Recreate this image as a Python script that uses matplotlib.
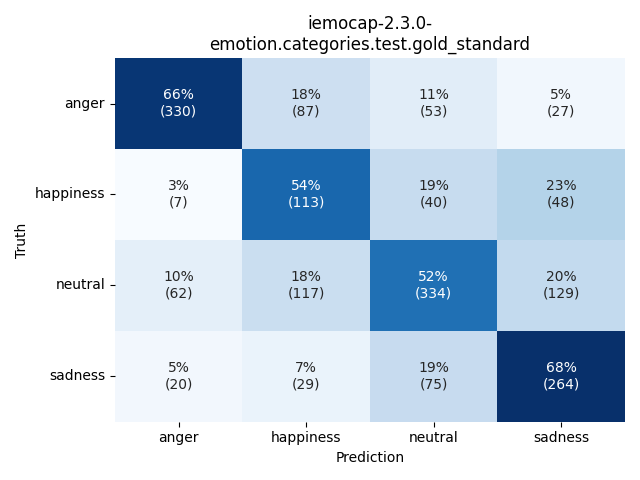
import numpy as np
import matplotlib
matplotlib.use("Agg")
import matplotlib.pyplot as plt
import seaborn as sns

# ── Data ───────────────────────────────────────────────────────────────────
labels = ["anger", "happiness", "neutral", "sadness"]
counts = np.array([
    [330, 87, 53, 27],
    [7, 113, 40, 48],
    [62, 117, 334, 129],
    [20, 29, 75, 264],
])

# row-normalised percentages
pct = 100 * counts / counts.sum(axis=1, keepdims=True)
annot = np.array([[f"{p:.0f}%\n({c})" for p, c in zip(prow, crow)]
                  for prow, crow in zip(pct, counts)])

# ── Plot ───────────────────────────────────────────────────────────────────
fig, ax = plt.subplots(figsize=(6.4, 4.8))
sns.heatmap(pct, annot=annot, fmt="", cmap="Blues", cbar=False,
            xticklabels=labels, yticklabels=labels, ax=ax)
ax.set_xlabel("Prediction")
ax.set_ylabel("Truth")
ax.set_title("iemocap-2.3.0-\nemotion.categories.test.gold_standard")
plt.yticks(rotation=0)
plt.tight_layout()
fig.savefig("out.png", dpi=100)
plt.close(fig)
